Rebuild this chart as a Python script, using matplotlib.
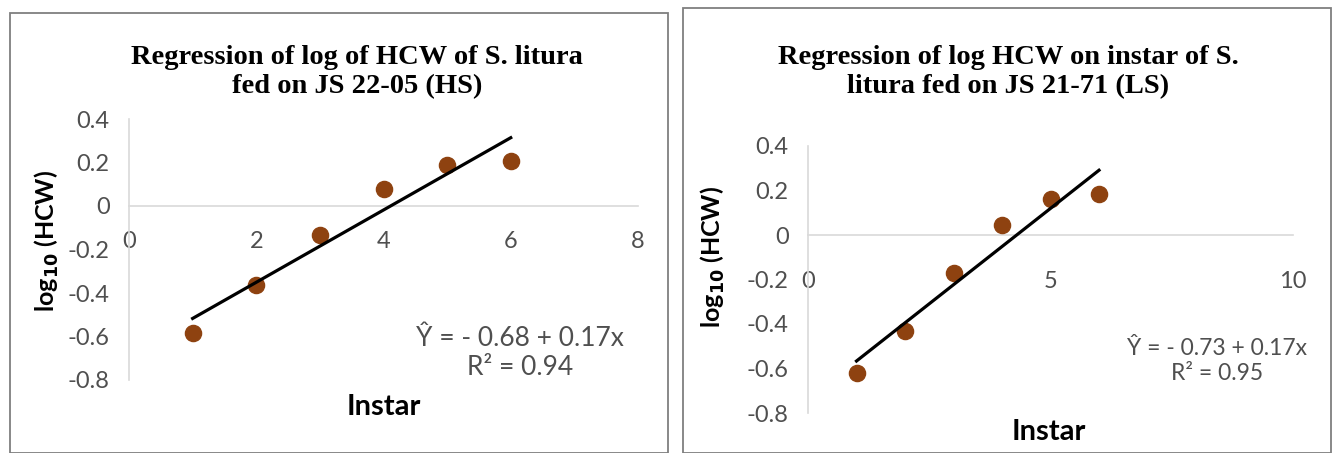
import numpy as np
import matplotlib
matplotlib.use("Agg")
import matplotlib.pyplot as plt
from matplotlib.patches import Rectangle

# data
instar = [1, 2, 3, 4, 5, 6]
log_hcw_hs = [-0.586, -0.361, -0.132, 0.076, 0.187, 0.207]
log_hcw_ls = [-0.618, -0.430, -0.170, 0.047, 0.160, 0.185]

yticks = [0.4, 0.2, 0, -0.2, -0.4, -0.6, -0.8]
xticks_hs = [0, 2, 4, 6, 8]
xticks_ls = [0, 5, 10]

titles = ["Regression of log of HCW of S. litura\nfed on JS 22-05 (HS)",
          "Regression of log HCW on instar of S.\nlitura fed on JS 21-71 (LS)"]
eqs = ["\u0176 = - 0.68 + 0.17x\nR\u00b2 = 0.94",
       "\u0176 = - 0.73 + 0.17x\nR\u00b2 = 0.95"]

W, H = 1332, 453
fig = plt.figure(figsize=(W / 100, H / 100), dpi=100)

sans = ["Lato", "DejaVu Sans"]
grey = "#4F4F4F"
axis_col = "#D9D9D9"
dot_col = "#8E4210"


def fig_box(x0, x1, y_top, y_bot):
    return [x0 / W, 1 - y_bot / H, (x1 - x0) / W, (y_bot - y_top) / H]


# panel frames
fig.add_artist(Rectangle((10 / W, 0), 658 / W, 1 - 13 / H, transform=fig.transFigure,
                         fill=False, edgecolor="#7F7F7F", lw=1.3))
fig.add_artist(Rectangle((683 / W, 0), 648 / W, 1 - 8 / H, transform=fig.transFigure,
                         fill=False, edgecolor="#7F7F7F", lw=1.3))

panels = [
    dict(box=fig_box(129, 638, 119, 380), y=log_hcw_hs, xt=xticks_hs, xlim=8, xpad=18,
         title_x=357, ylab=(47, 241), xlab=(384, 407), eq=(520, 353), eq_fs=19, tick_fs=17),
    dict(box=fig_box(808, 1293, 146, 413), y=log_hcw_ls, xt=xticks_ls, xlim=10, xpad=26,
         title_x=1008, ylab=(713, 257), xlab=(1049, 432), eq=(1217, 361), eq_fs=16.5, tick_fs=17),
]

for i, p in enumerate(panels):
    ax = fig.add_axes(p["box"])
    ax.set_xlim(0, p["xlim"])
    ax.set_ylim(-0.8, 0.4)
    ax.set_xticks(p["xt"])
    ax.set_yticks(yticks)
    ax.set_yticklabels([f"{v:g}" for v in yticks])
    ax.spines["top"].set_visible(False)
    ax.spines["right"].set_visible(False)
    ax.spines["bottom"].set_position(("data", 0))
    for s in ("left", "bottom"):
        ax.spines[s].set_color(axis_col)
        ax.spines[s].set_linewidth(1.2)
    ax.tick_params(axis="x", length=0, pad=p["xpad"], labelsize=p["tick_fs"], labelcolor=grey)
    ax.tick_params(axis="y", length=0, pad=14, labelsize=p["tick_fs"], labelcolor=grey)
    for lab in ax.get_xticklabels() + ax.get_yticklabels():
        lab.set_family(sans)

    ax.scatter(instar, p["y"], s=135, color=dot_col, zorder=3)
    slope, icpt = np.polyfit(instar, p["y"], 1)
    xs = np.array([instar[0], instar[-1]])
    ax.plot(xs, icpt + slope * xs, color="black", lw=2.3, zorder=4)

    fig.text(p["title_x"] / W, 1 - 72 / H, titles[i], ha="center", va="center",
             family="Liberation Serif", weight="bold", fontsize=20.5, linespacing=1.22)
    fig.text(p["ylab"][0] / W, 1 - p["ylab"][1] / H, r"log$_{\mathbf{10}}$ (HCW)",
             rotation=90, ha="center", va="center", family=sans, weight="bold", fontsize=18)
    fig.text(p["xlab"][0] / W, 1 - p["xlab"][1] / H, "Instar", ha="center", va="center",
             family=sans, weight="bold", fontsize=21)
    fig.text(p["eq"][0] / W, 1 - p["eq"][1] / H, eqs[i], ha="center", va="center",
             family=sans, color=grey, fontsize=p["eq_fs"], linespacing=1.2)

fig.savefig("out.png", dpi=100)
